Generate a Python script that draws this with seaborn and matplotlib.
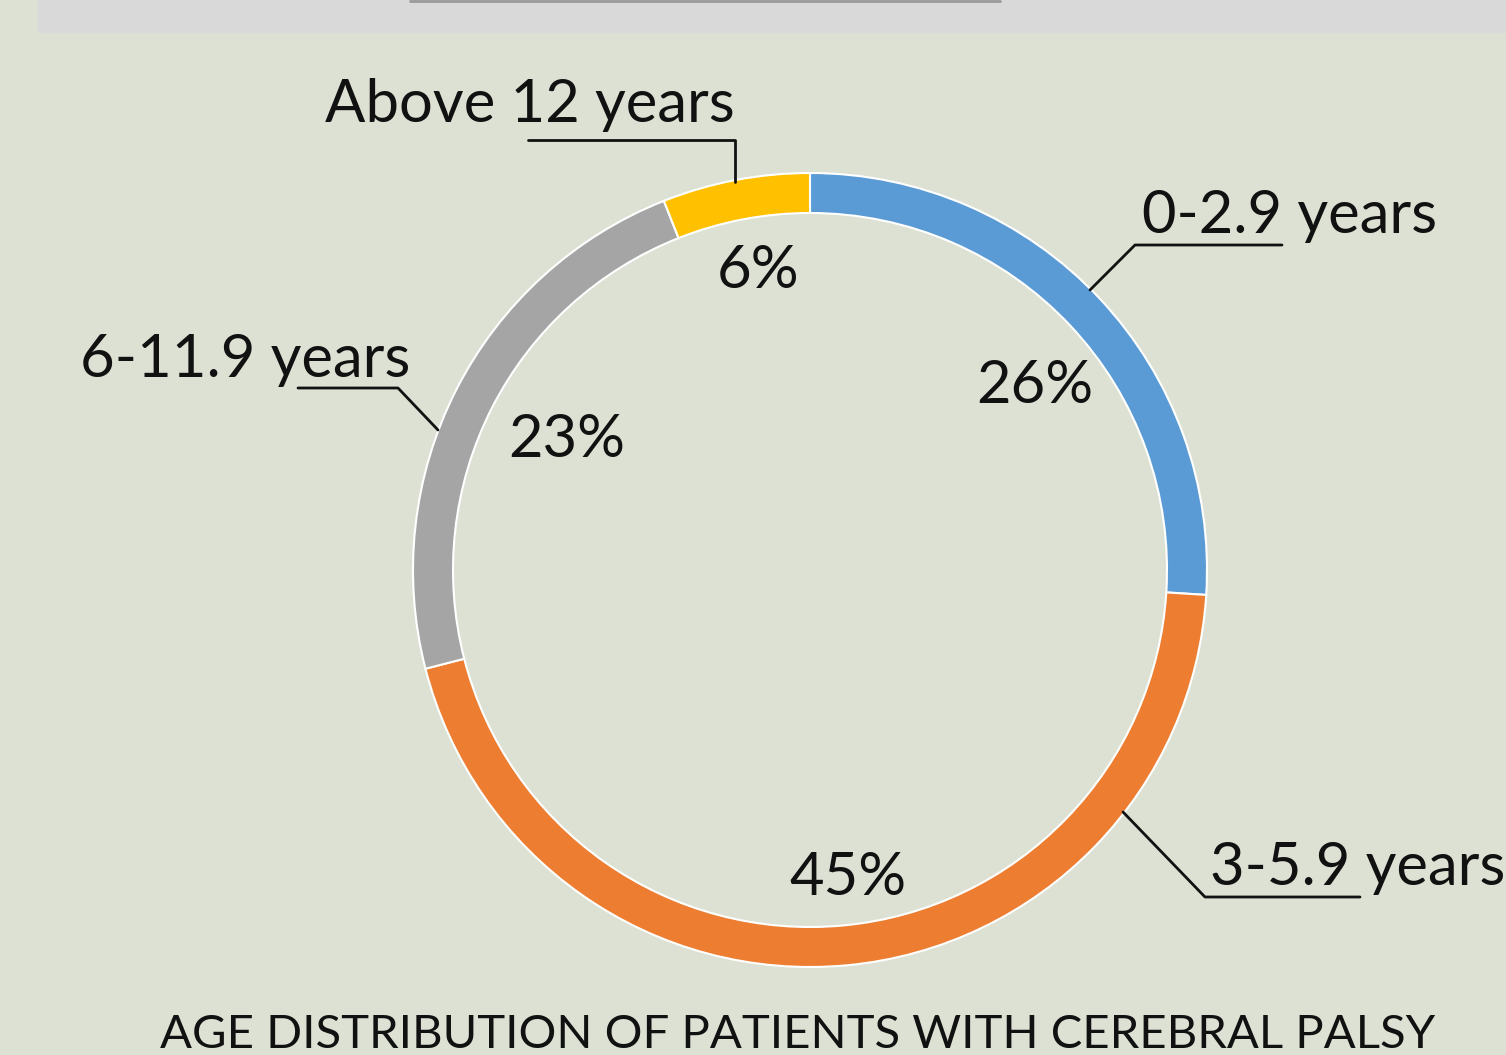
import numpy as np
import matplotlib
matplotlib.use("Agg")
import matplotlib.pyplot as plt
import seaborn as sns

# data
age_groups = ["0-2.9 years", "3-5.9 years", "6-11.9 years", "Above 12 years"]
shares = [26, 45, 23, 6]
colors = ["#5B9BD5", "#ED7D31", "#A5A5A5", "#FFC000"]
title = "AGE DISTRIBUTION OF PATIENTS WITH CEREBRAL PALSY"

sns.set_theme(style="white")
plt.rcParams['font.family'] = ['Lato', 'DejaVu Sans']

W, H = 1506, 1055
bg = "#DCE1D4"
ink = "#111111"
fig = plt.figure(figsize=(W / 100, H / 100), dpi=100, facecolor=bg)
ax = fig.add_axes([0, 0, 1, 1])
ax.set_facecolor(bg)

# grey header band at the top
ax.add_patch(plt.Rectangle((38, H - 32), W - 38, 32, color="#D9D9D9", zorder=0))
ax.plot([410, 1000], [H - 0.5, H - 0.5], color="#9A9A9A", lw=2, zorder=1)

cx, cy, r = 810, H - 570, 397
wedges, texts, autotexts = ax.pie(
    shares, colors=colors, startangle=90, counterclock=False,
    center=(cx, cy), radius=r, autopct="%1.0f%%", pctdistance=0.76,
    wedgeprops=dict(width=40, edgecolor="white", linewidth=1.5),
    textprops=dict(fontsize=43, color=ink), frame=True)
ax.set_xlim(0, W)
ax.set_ylim(0, H)
ax.axis("off")

# percent labels sit slightly off the mid-angle in the original
pct_pos = [(1035, 403), (848, 895), (567, 457), (758, 288)]
for t, (x, y) in zip(autotexts, pct_pos):
    t.set_position((x, H - y))
    t.set_va("baseline")

# outside labels with leader lines
fs = 43
ax.text(1142, H - 233, age_groups[0], fontsize=fs, ha="left", va="baseline", color=ink)
ax.plot([1090, 1135, 1282], [H - 290, H - 245, H - 245], color=ink, lw=2)

ax.text(1210, H - 885, age_groups[1], fontsize=fs, ha="left", va="baseline", color=ink)
ax.plot([1123, 1205, 1360], [H - 812, H - 897, H - 897], color=ink, lw=2)

ax.text(80, H - 377, age_groups[2], fontsize=fs, ha="left", va="baseline", color=ink)
ax.plot([438, 398, 298], [H - 430, H - 388, H - 388], color=ink, lw=2)

ax.text(325, H - 122, age_groups[3], fontsize=fs, ha="left", va="baseline", color=ink)
ax.plot([735, 735, 528], [H - 182, H - 140, H - 140], color=ink, lw=2)

ax.text(160, H - 1048, title, fontsize=34, ha="left", va="baseline", color=ink)

fig.savefig("out.png", dpi=100, facecolor=bg)
